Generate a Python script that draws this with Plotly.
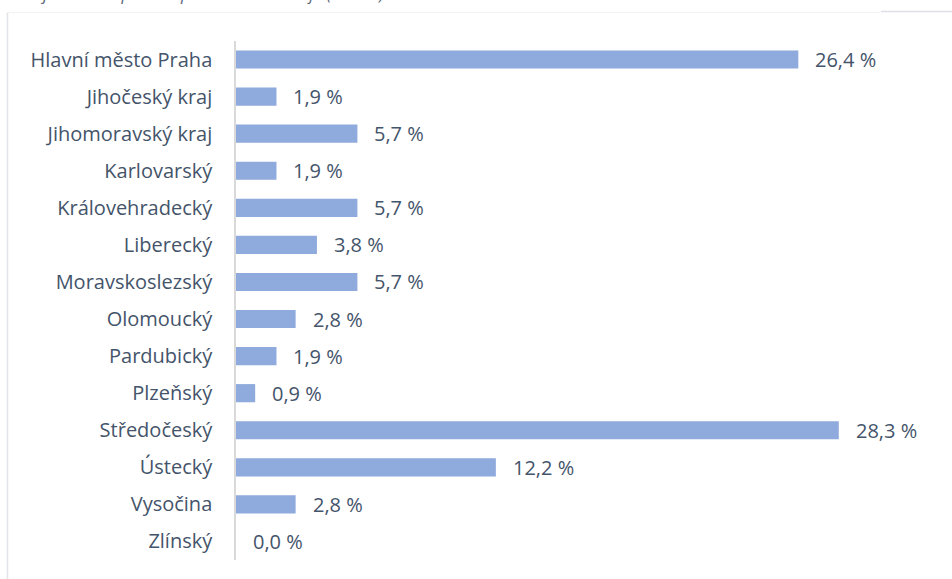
import plotly.graph_objects as go

# Podíl respondentů podle kraje (v %)
kraje = [
    "Hlavní město Praha", "Jihočeský kraj", "Jihomoravský kraj", "Karlovarský",
    "Královehradecký", "Liberecký", "Moravskoslezský", "Olomoucký",
    "Pardubický", "Plzeňský", "Středočeský", "Ústecký", "Vysočina", "Zlínský",
]
podil = [26.4, 1.9, 5.7, 1.9, 5.7, 3.8, 5.7, 2.8, 1.9, 0.9, 28.3, 12.2, 2.8, 0.0]

nadpis = "Graf 2: Zastoupení respondentů dle kraje (n=106)"

W, H = 952, 579
ML, MR, MT, MB = 236, 77, 41, 19
TEXT = "#44546A"
FONT = "'Open Sans', sans-serif"


def fx(px):
    return (px - ML) / (W - ML - MR)


def fy(px):
    return (H - MB - px) / (H - MT - MB)


fig = go.Figure(
    go.Bar(
        x=podil,
        y=kraje,
        orientation="h",
        marker=dict(color="#8FAADC", line=dict(width=0)),
        width=0.49,
        hoverinfo="skip",
    )
)

annotations = [
    dict(
        x=v, y=k, xref="x", yref="y", text=f"{v:.1f}".replace(".", ",") + " %",
        showarrow=False, xanchor="left", xshift=15,
        font=dict(family=FONT, size=20, color=TEXT),
    )
    for k, v in zip(kraje, podil)
]
annotations.append(
    dict(
        x=fx(385), y=fy(6), xref="paper", yref="paper", text=f"<i>{nadpis}</i>",
        showarrow=False, xanchor="right", yanchor="bottom", borderpad=0,
        font=dict(family=FONT, size=17, color="#5B6578"),
    )
)

shapes = [
    # rámeček grafu
    dict(type="line", xref="paper", yref="paper", x0=fx(7), x1=fx(880), y0=fy(12.5), y1=fy(12.5),
         line=dict(color="#F2F2F2", width=1)),
    dict(type="line", xref="paper", yref="paper", x0=fx(881), x1=fx(960), y0=fy(11.5), y1=fy(11.5),
         line=dict(color="#DDE0E6", width=1.5)),
    dict(type="line", xref="paper", yref="paper", x0=fx(7.5), x1=fx(7.5), y0=fy(13), y1=fy(590),
         line=dict(color="#E0E3E8", width=1.5)),
]

fig.update_layout(
    width=W, height=H,
    margin=dict(l=ML, r=MR, t=MT, b=MB, pad=0),
    paper_bgcolor="white", plot_bgcolor="white",
    showlegend=False,
    bargap=0.5,
    font=dict(family=FONT, size=20, color=TEXT),
    xaxis=dict(range=[0, 30], visible=False, fixedrange=True),
    yaxis=dict(
        categoryorder="array", categoryarray=kraje, autorange="reversed",
        showline=True, linecolor="#D9D9D9", linewidth=1.5,
        showgrid=False, zeroline=False, ticks="", ticklabelstandoff=18,
        tickfont=dict(family=FONT, size=20, color=TEXT),
    ),
    annotations=annotations,
    shapes=shapes,
)

fig.write_html("out.html")
